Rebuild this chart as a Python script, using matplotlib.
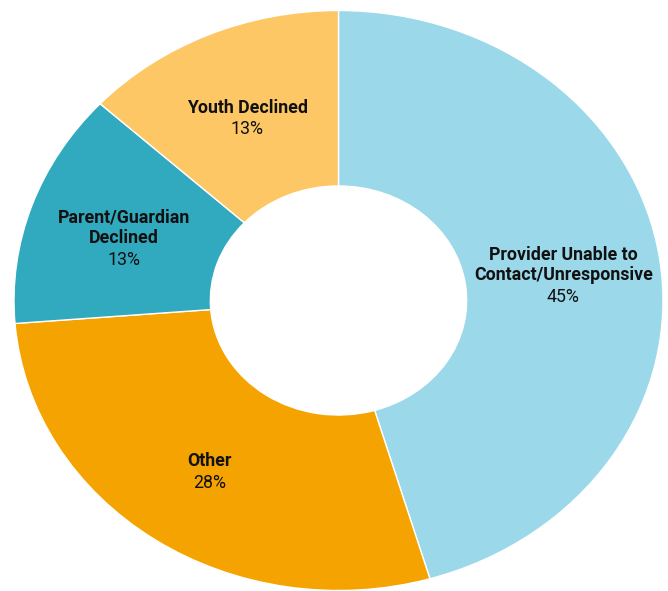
import numpy as np
import matplotlib
matplotlib.use("Agg")
import matplotlib.pyplot as plt

categories = ["Provider Unable to\nContact/Unresponsive", "Other", "Parent/Guardian\nDeclined", "Youth Declined"]
values = [45, 28, 13, 13]
colors = ["#9BD8EA", "#F4A300", "#31A9BE", "#FDC765"]

plt.rcParams["font.family"] = ["Roboto", "DejaVu Sans"]

W, H, DPI = 668, 591, 100
fig = plt.figure(figsize=(W / DPI, H / DPI), dpi=DPI)
ax = fig.add_axes([0, 0, 1, 1])

wedges, _ = ax.pie(values, colors=colors, startangle=90, counterclock=False,
                   radius=1.0, wedgeprops=dict(width=0.605, edgecolor="white", linewidth=1.0))

# Stretch the ring horizontally (center, horizontal and vertical radii in pixels)
cx, cy, rx, ry = 338.5, 300.5, 324.5, 290.0
ax.set_aspect("auto")
ax.set_xlim(-cx / rx, (W - cx) / rx)
ax.set_ylim(-(H - cy) / ry, cy / ry)
ax.axis("off")

total = sum(values)
line_pt = 15.4
fs = 12.8
shift = -3.0
cum = 0.0
for name, v, w in zip(categories, values, wedges):
    mid = 90 - (cum + v / 2) / total * 360
    cum += v
    r = 0.7
    x, y = r * np.cos(np.radians(mid)), r * np.sin(np.radians(mid))
    k = name.count("\n") + 1
    ax.annotate(name, (x, y), xytext=(0, line_pt / 2 + shift), textcoords="offset points",
                ha="center", va="center", fontsize=fs, fontweight="bold",
                color="#111111", linespacing=1.2)
    ax.annotate(f"{v}%", (x, y), xytext=(0, -k * line_pt / 2 + shift), textcoords="offset points",
                ha="center", va="center", fontsize=fs, color="#111111")

fig.savefig("out.png", dpi=DPI, facecolor="white")
